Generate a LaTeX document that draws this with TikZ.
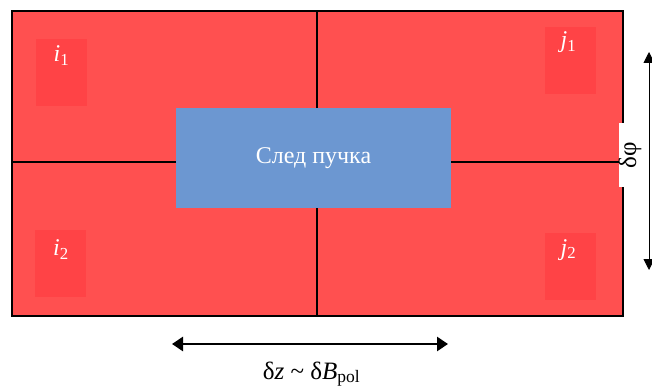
\documentclass[tikz,border=0pt]{standalone}
\usepackage{fontspec}
\setmainfont{Liberation Serif}
\usetikzlibrary{positioning,arrows.meta,calc}
\definecolor{cellred}{HTML}{FF5050}
\definecolor{padred}{HTML}{FF4346}
\definecolor{beamblue}{HTML}{6C97D1}
\tikzset{
  cell/.style={draw=black, line width=1.3pt, fill=cellred, outer sep=0pt,
    inner sep=0pt},
  pad/.style={fill=padred, minimum width=51pt, minimum height=67pt, inner sep=0pt},
  padlbl/.style={text=white, font=\fontsize{24}{28}\selectfont, inner sep=0pt},
  beam/.style={fill=beamblue, minimum width=275pt, minimum height=100pt,
    text=white, font=\fontsize{24}{28}\selectfont},
  span/.style={{Triangle[length=11pt,width=14pt]}-{Triangle[length=11pt,width=14pt]},
    line width=2.8pt},
  vspan/.style={{Triangle[length=11pt,width=11pt]}-{Triangle[length=11pt,width=11pt]},
    line width=1pt},
  dimlbl/.style={font=\fontsize{25}{29}\selectfont},
}

\begin{document}
\begin{tikzpicture}[x=1pt, y=-1pt]
    \useasboundingbox (0,0) rectangle (652,387);
    % detector cells
    \node[cell, minimum width=305pt, minimum height=151pt, anchor=north west] (q1) at (12,11) {};
    \node[cell, minimum width=306pt, minimum height=151pt, right=0pt of q1] (q2) {};
    \node[cell, minimum width=305pt, minimum height=154pt, below=0pt of q1] (q3) {};
    \node[cell, minimum width=306pt, minimum height=154pt, below=0pt of q2] (q4) {};
    % pads
    \node[pad] (i1) at (61.5,72.5) {};
    \node[pad] (j1) at (570.5,60.5) {};
    \node[pad] (i2) at (60.5,263.5) {};
    \node[pad] (j2) at (570.5,266.5) {};
    \node[padlbl] (i1l) at ($(i1.north)+(0,16.5)$) {\textit{i}\textsubscript{1}};
    \node[padlbl] (j1l) at ($(j1.north)+(-2,15.5)$) {\textit{j}\textsubscript{1}};
    \node[padlbl] (i2l) at ($(i2.north)+(0.5,20)$) {\textit{i}\textsubscript{2}};
    \node[padlbl] (j2l) at ($(j2.north)+(-2,17)$) {\textit{j}\textsubscript{2}};
    % beam spot
    \node[beam] (spot) at (313.5,158) {След пучка};
    % dimensions
    \coordinate (zl) at (172,344);
    \coordinate (zr) at (448,344);
    \draw[span] (zl) -- (zr);
    \node[dimlbl] (dz) at (311.5,374) {δ\textit{z} \char"7E{} δ\textit{B}\textsubscript{pol}};
    \coordinate (pt) at (649,52);
    \coordinate (pb) at (649,270);
    \draw[vspan] (pt) -- (pb);
    \node[dimlbl, fill=white, rotate=90, minimum width=64pt, minimum height=20pt,
      inner sep=0pt] (dphi) at (630,155) {δφ};
  \end{tikzpicture}
\end{document}
